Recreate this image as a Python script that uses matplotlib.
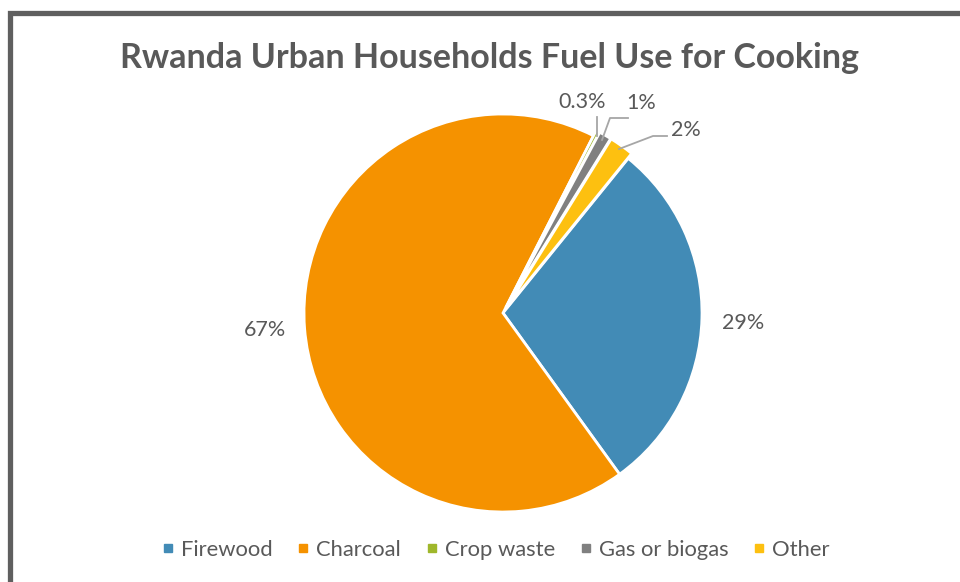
import matplotlib
matplotlib.use("Agg")
import matplotlib.pyplot as plt
from matplotlib.lines import Line2D
from matplotlib.patches import Rectangle

fuels = ["Firewood", "Charcoal", "Crop waste", "Gas or biogas", "Other"]
shares = [29, 67, 0.3, 1, 2]
colors = ["#428bb6", "#f59200", "#9fb72b", "#808080", "#fdc010"]

TXT = "#595959"
plt.rcParams["font.family"] = ["Lato", "DejaVu Sans"]

fig = plt.figure(figsize=(9.6, 5.82), dpi=100)
W, H = 960, 582

# chart frame (extends past the right and bottom edges)
fig.patches.append(Rectangle((9.5 / W, -0.05), 1.2, 1 - 12.5 / H + 0.05,
                             transform=fig.transFigure, fill=False,
                             edgecolor="#5f5f5f", linewidth=3.8))

cx, cy, r = 503, 313, 199
ax = fig.add_axes([(cx - r) / W, (H - cy - r) / H, 2 * r / W, 2 * r / H])

wedges, _ = ax.pie(shares, colors=colors, startangle=51, counterclock=False,
                   explode=[0, 0, 0.03, 0.03, 0.03], radius=1,
                   wedgeprops=dict(edgecolor="white", linewidth=2))
ax.set_xlim(-1, 1); ax.set_ylim(-1, 1); ax.set_aspect("equal"); ax.axis("off")

def fmt(v):
    return f"{v:g}%"

LBL = 15.5
# labels for the two big slices sit just outside the pie
ax.text(-1.195, -0.085, fmt(shares[1]), ha="center", va="center", fontsize=LBL, color=TXT)
ax.text(1.205, -0.05, fmt(shares[0]), ha="center", va="center", fontsize=LBL, color=TXT)

# small slices get leader lines
lc = "#a6a6a6"
def px(x, y):
    return ((x - cx) / r, (cy - y) / r)

for txt, tpos, path in [
    (fmt(shares[2]), (582, 102), [(597, 117), (597, 136)]),
    (fmt(shares[3]), (641, 103), [(628, 118), (610, 118), (602, 140)]),
    (fmt(shares[4]), (686, 130), [(667, 136), (653, 136), (619, 149)]),
]:
    ax.text(*px(*tpos), txt, ha="center", va="center", fontsize=LBL, color=TXT)
    xs, ys = zip(*[px(*p) for p in path])
    ax.plot(xs, ys, color=lc, linewidth=1.3, clip_on=False)

fig.text(490 / W, 1 - 58 / H, "Rwanda Urban Households Fuel Use for Cooking",
         ha="center", va="center", fontsize=24.5, fontweight="bold", color=TXT)

handles = [Line2D([], [], marker="s", linestyle="none", markersize=6,
                  markerfacecolor=c, markeredgecolor=c) for c in colors]
leg = fig.legend(handles, fuels, loc="center", bbox_to_anchor=(496 / W, 1 - 550 / H),
                 ncol=5, frameon=False, fontsize=15.8, handlelength=0.5,
                 handletextpad=0.35, columnspacing=1.15)
for t in leg.get_texts():
    t.set_color(TXT)

fig.savefig("out.png", dpi=100)
